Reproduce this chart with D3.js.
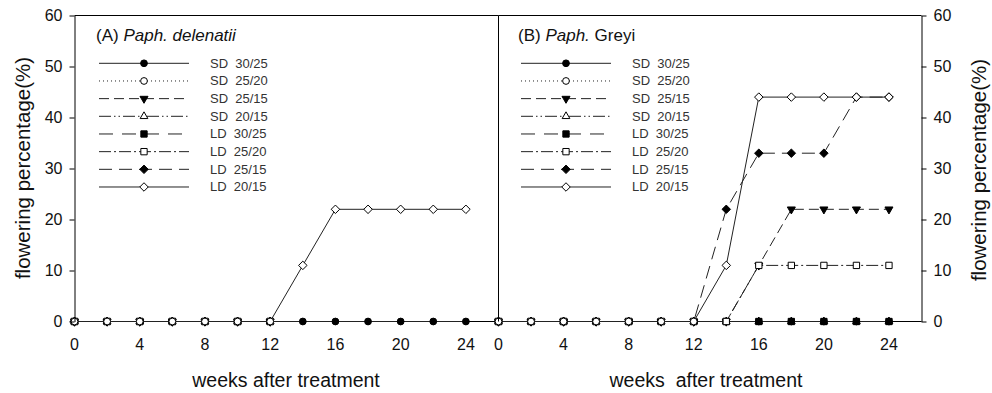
<!DOCTYPE html>
<html><head><meta charset="utf-8">
<script src="https://cdn.jsdelivr.net/npm/d3@7"></script>
<style>body{margin:0;background:#fff}svg{display:block}text{font-family:"Liberation Sans",Arial,sans-serif}</style>
</head><body>
<svg id="c" width="992" height="393"></svg>
<script>
const weeks = [0,2,4,6,8,10,12,14,16,18,20,22,24];
const xTicks = [0,4,8,12,16,20,24];
const yTicks = [0,10,20,30,40,50,60];
const seriesNames = ["SD  30/25","SD  25/20","SD  25/15","SD  20/15","LD  30/25","LD  25/20","LD  25/15","LD  20/15"];

// Panel A: Paph. delenatii (null = point hidden behind another marker)
const a_SD3025 = [null,null,null,null,null,null,0,0,0,0,0,0,0];
const a_SD2520 = [0,0,0,0,0,0,0,null,null,null,null,null,null];
const a_SD2515 = [0,0,0,0,0,0,0,null,null,null,null,null,null];
const a_SD2015 = [0,0,0,0,0,0,0,null,null,null,null,null,null];
const a_LD3025 = [0,0,0,0,0,0,0,null,null,null,null,null,null];
const a_LD2520 = [0,0,0,0,0,0,0,null,null,null,null,null,null];
const a_LD2515 = [0,0,0,0,0,0,0,null,null,null,null,null,null];
const a_LD2015 = [0,0,0,0,0,0,0,11,22,22,22,22,22];

// Panel B: Paph. Greyi
const b_SD3025 = [0,0,0,0,0,0,0,0,0,0,0,0,0];
const b_SD2520 = [0,0,0,0,0,0,0,null,null,null,null,null,null];
const b_SD2515 = [0,0,0,0,0,0,0,0,11,22,22,22,22];
const b_SD2015 = [0,0,0,0,0,0,0,0,0,0,0,0,0];
const b_LD3025 = [0,0,0,0,0,0,0,0,0,0,0,0,0];
const b_LD2520 = [0,0,0,0,0,0,0,0,11,11,11,11,11];
const b_LD2515 = [0,0,0,0,0,0,0,22,33,33,33,44,44];
const b_LD2015 = [0,0,0,0,0,0,0,11,44,44,44,44,44];

const panelA = [a_SD3025,a_SD2520,a_SD2515,a_SD2015,a_LD3025,a_LD2520,a_LD2515,a_LD2015];
const panelB = [b_SD3025,b_SD2520,b_SD2515,b_SD2015,b_LD3025,b_LD2520,b_LD2515,b_LD2015];

const symDiamond = {draw(ctx,size){const r=Math.sqrt(size/2);ctx.moveTo(0,-r);ctx.lineTo(r,0);ctx.lineTo(0,r);ctx.lineTo(-r,0);ctx.closePath();}};

const styles = [
  {dash:null, sym:d3.symbolCircle, size:36, fill:"#000", rot:0},
  {dash:"1,3", sym:d3.symbolCircle, size:36, fill:"#fff", rot:0},
  {dash:"10,5", sym:d3.symbolTriangle, size:28, fill:"#000", rot:180},
  {dash:"12,3,1.5,3,1.5,3", sym:d3.symbolTriangle, size:26, fill:"#fff", rot:0},
  {dash:"14,9", sym:d3.symbolSquare, size:40, fill:"#000", rot:0},
  {dash:"12,3,2,3", sym:d3.symbolSquare, size:40, fill:"#fff", rot:0},
  {dash:"13,7", sym:symDiamond, size:36, fill:"#000", rot:0},
  {dash:null, sym:symDiamond, size:36, fill:"#fff", rot:0}
];
const drawOrder = [6,7,3,4,2,0,5,1];

const svg = d3.select("#c");
const y = d3.scaleLinear().domain([0,60]).range([321.5,15.5]);
const xA = d3.scaleLinear().domain([0,26]).range([74.5,498.5]);
const xB = d3.scaleLinear().domain([0,26]).range([498.5,921.5]);

function panel(x, values, title, italicPart, restPart, legX) {
  const g = svg.append("g");
  g.append("line").attr("x1",x(0)).attr("x2",x(26)).attr("y1",y(60)).attr("y2",y(60)).attr("stroke","#000");
  g.append("line").attr("x1",x(0)).attr("x2",x(26)).attr("y1",y(0)).attr("y2",y(0)).attr("stroke","#000");
  g.selectAll(".xt").data(xTicks).enter().append("text")
    .attr("x",d=>x(d)).attr("y",350).attr("text-anchor","middle")
    .attr("font-size",16).attr("fill","#111").text(d=>d);
  const line = d3.line().defined(d=>d[1]!==null).x(d=>x(d[0])).y(d=>y(d[1]));
  drawOrder.forEach(i=>{
    const st = styles[i];
    const pts = weeks.map((w,k)=>[w, values[i][k]]);
    g.append("path").attr("d",line(pts)).attr("fill","none").attr("stroke","#222")
      .attr("stroke-width",1).attr("stroke-dasharray",st.dash);
    g.selectAll(null).data(pts.filter(d=>d[1]!==null)).enter().append("path")
      .attr("d",d3.symbol().type(st.sym).size(st.size))
      .attr("transform",d=>`translate(${x(d[0])},${y(d[1])}) rotate(${st.rot})`)
      .attr("fill",st.fill).attr("stroke","#000").attr("stroke-width",1);
  });
  const t = g.append("text").attr("x",legX-3).attr("y",41).attr("font-size",17).attr("fill","#111");
  t.append("tspan").text(title);
  t.append("tspan").attr("font-style","italic").text(italicPart);
  t.append("tspan").style("white-space","pre").text(restPart);
  seriesNames.forEach((name,i)=>{
    const st = styles[i];
    const ly = 63.3 + i*17.67;
    g.append("line").attr("x1",legX).attr("x2",legX+90).attr("y1",ly).attr("y2",ly)
      .attr("stroke","#222").attr("stroke-dasharray",st.dash);
    g.append("path").attr("d",d3.symbol().type(st.sym).size(st.size))
      .attr("transform",`translate(${legX+45},${ly}) rotate(${st.rot})`)
      .attr("fill",st.fill).attr("stroke","#000");
    g.append("text").attr("x",legX+111).attr("y",ly+4.5).attr("font-size",13)
      .attr("fill","#333").style("white-space","pre").text(name);
  });
}

panel(xA, panelA, "(A) ", "Paph. delenatii", "", 99);
panel(xB, panelB, "(B) ", "Paph.", " Greyi", 521);

svg.append("line").attr("x1",498.5).attr("x2",498.5).attr("y1",y(60)).attr("y2",y(0)).attr("stroke","#000");

svg.append("g").attr("transform","translate(74.5,0)")
  .call(d3.axisLeft(y).tickValues(yTicks).tickSize(5).tickPadding(7).tickSizeOuter(0))
  .call(g=>{g.selectAll("text").attr("font-size",16).attr("fill","#111").attr("font-family","Liberation Sans, Arial, sans-serif");
            g.selectAll("line,path").attr("stroke","#000");});
svg.append("g").attr("transform","translate(921.5,0)")
  .call(d3.axisRight(y).tickValues(yTicks).tickSize(5).tickPadding(7).tickSizeOuter(0))
  .call(g=>{g.selectAll("text").attr("font-size",16).attr("fill","#111").attr("font-family","Liberation Sans, Arial, sans-serif");
            g.selectAll("line,path").attr("stroke","#000");});

svg.append("text").attr("transform","translate(22,168) rotate(-90)").attr("text-anchor","middle")
  .attr("dominant-baseline","central").attr("font-size",20.5).attr("fill","#111").text("flowering percentage(%)");
svg.append("text").attr("transform","translate(978,170) rotate(-90)").attr("text-anchor","middle")
  .attr("dominant-baseline","central").attr("font-size",20.5).attr("fill","#111").text("flowering percentage(%)");
svg.append("text").attr("x",286).attr("y",387).attr("text-anchor","middle").attr("font-size",19.5)
  .attr("fill","#111").text("weeks after treatment");
svg.append("text").attr("x",706).attr("y",387).attr("text-anchor","middle").attr("font-size",19.5)
  .attr("fill","#111").style("white-space","pre").text("weeks  after treatment");
</script>
</body></html>
